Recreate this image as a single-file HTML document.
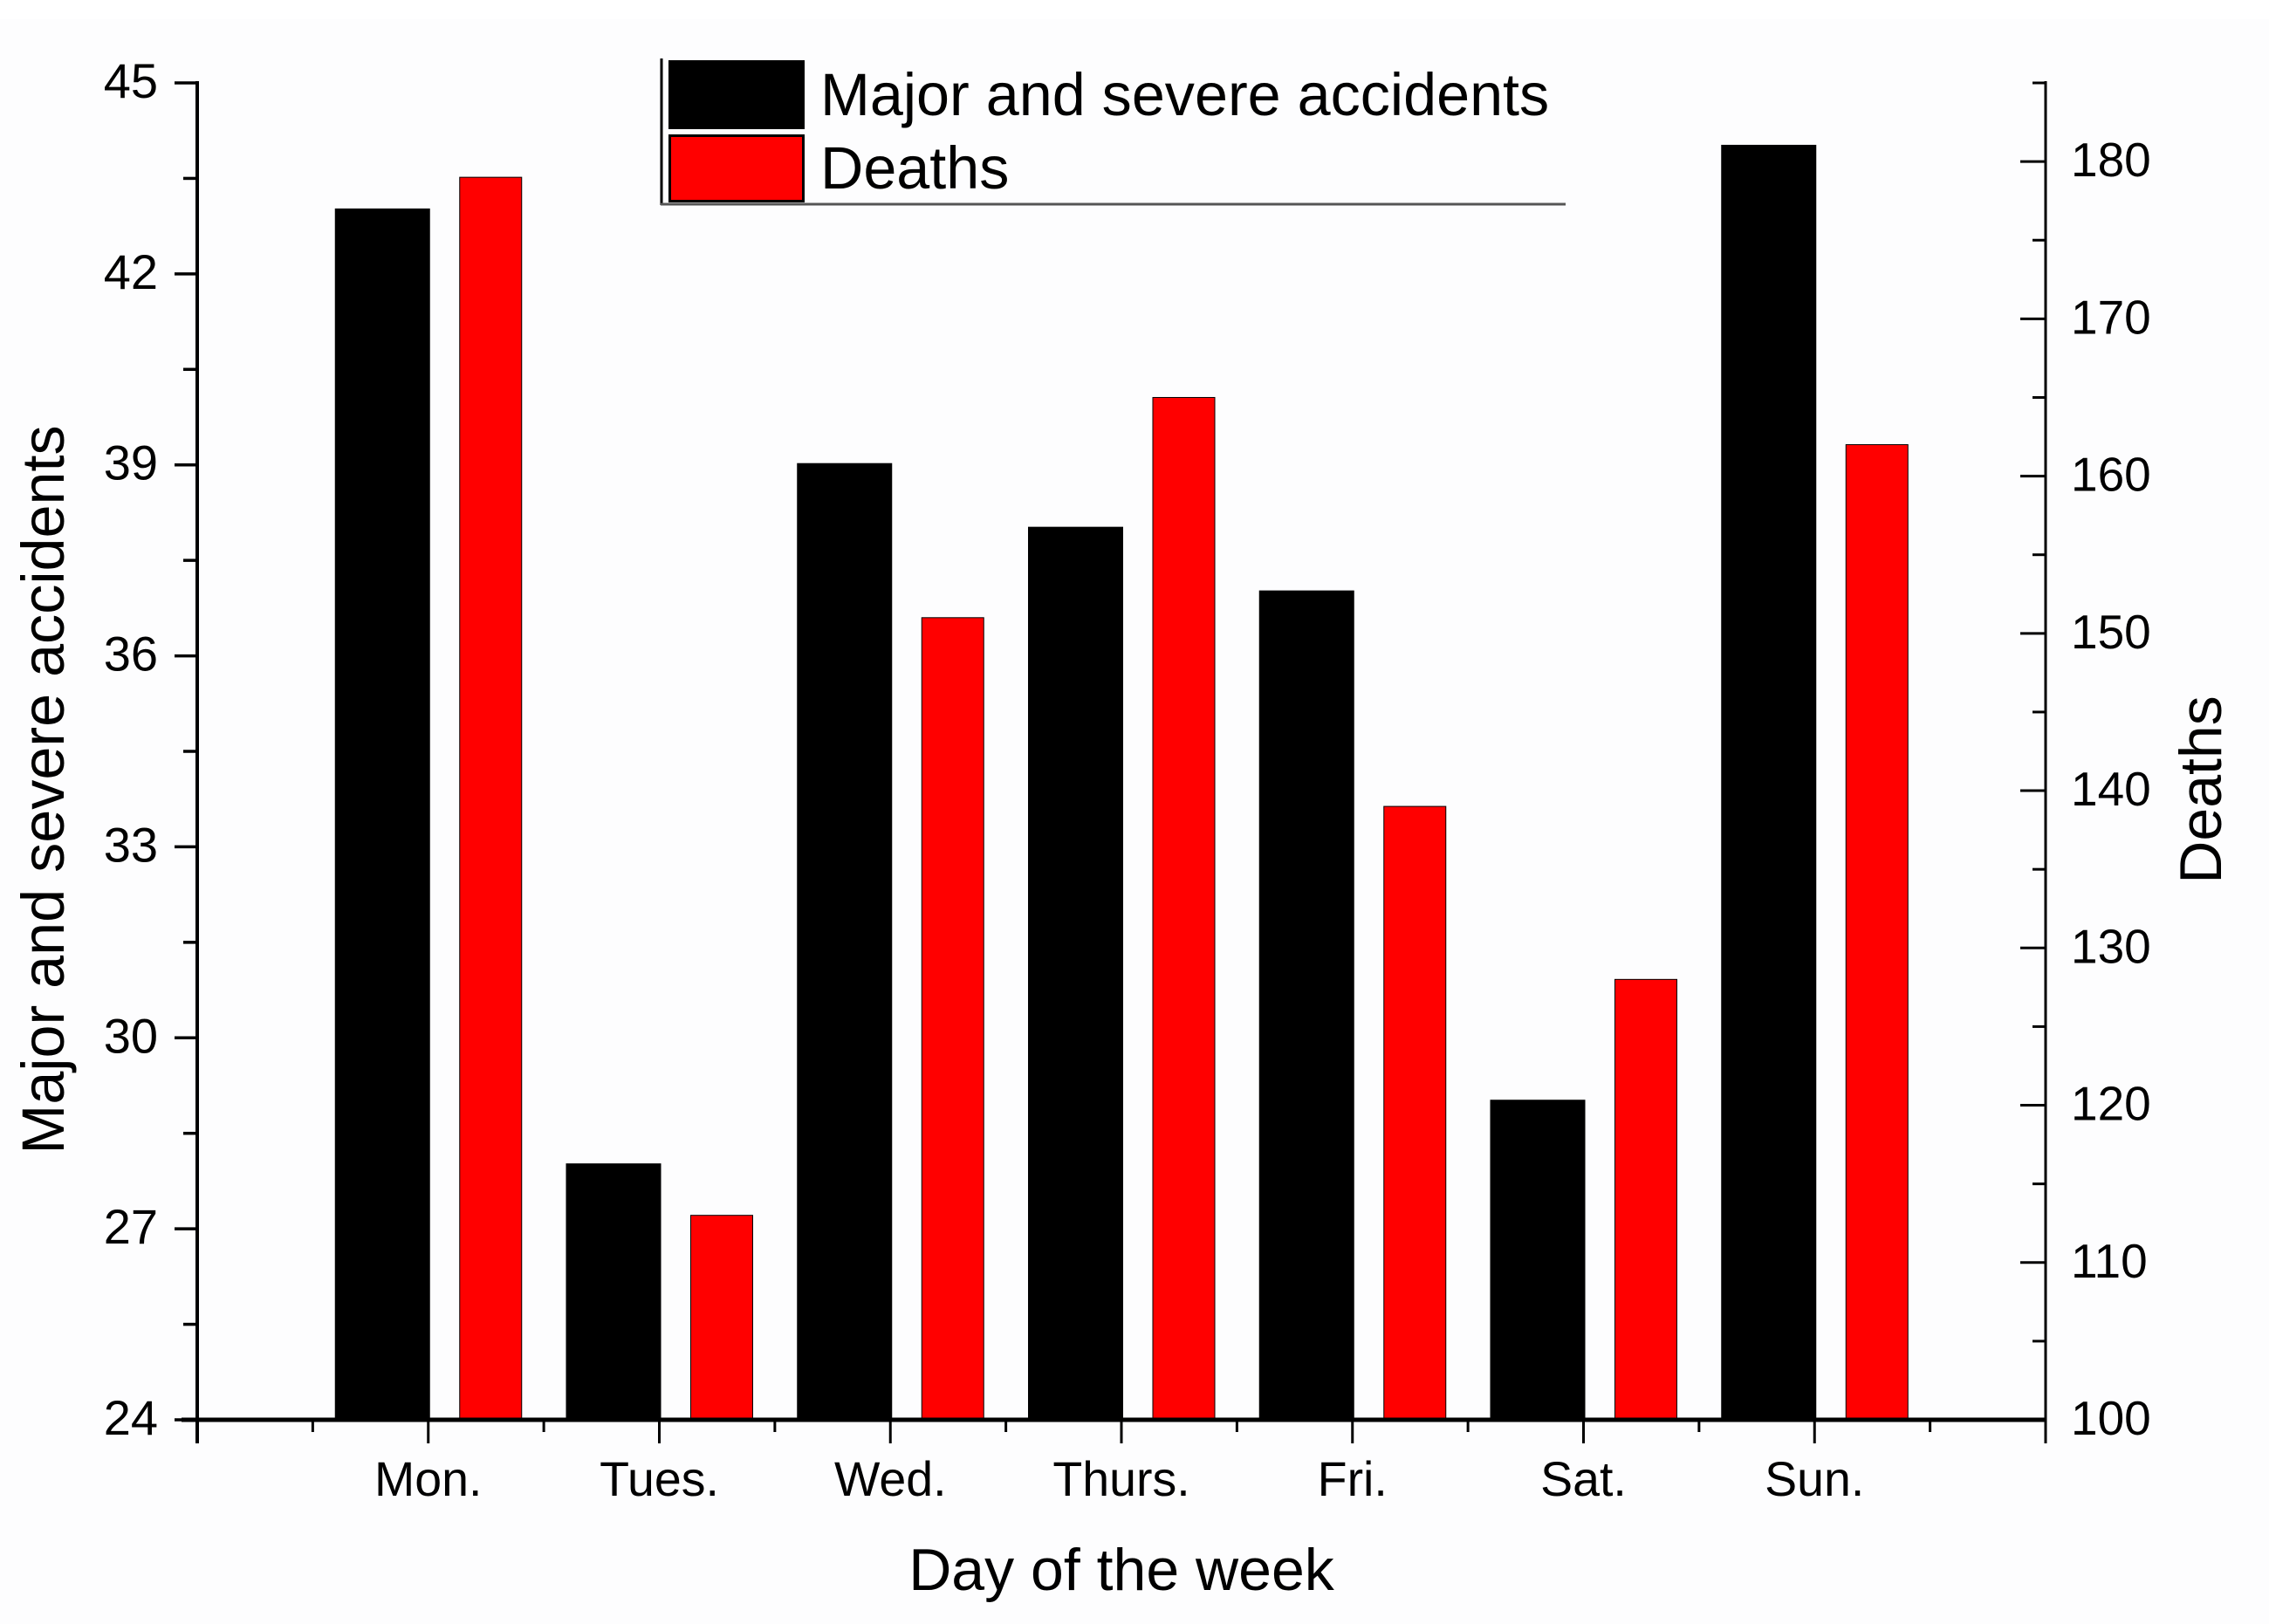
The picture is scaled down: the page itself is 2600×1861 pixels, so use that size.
<!DOCTYPE html>
<html lang="en">
<head>
<meta charset="utf-8">
<title>Major and severe accidents and deaths by day of the week</title>
<style>
html,body{margin:0;padding:0;background:#fff;}
#chart{display:block;width:2600px;height:1861px;font-family:"Liberation Sans",Arial,sans-serif;fill:#000;}
</style>
</head>
<body>
<svg id="chart" xmlns="http://www.w3.org/2000/svg" width="2600" height="1861" viewBox="0 0 2600 1861">
  <rect x="0" y="22" width="2600" height="1839" fill="#fdfdfe"></rect>
  <g id="bars"></g>
  <g id="axes"></g>
  <text x="73" y="905" font-size="68.3" text-anchor="middle" transform="rotate(-90 73 905)">Major and severe accidents</text>
  <text x="2545" y="905" font-size="68" text-anchor="middle" transform="rotate(-90 2545 905)">Deaths</text>
  <text x="1285" y="1822" font-size="68" text-anchor="middle">Day of the week</text>
  <g>
    <line x1="758" y1="67" x2="758" y2="235" stroke="#000" stroke-width="3"></line>
    <line x1="757" y1="234" x2="1794" y2="234" stroke="#555" stroke-width="3"></line>
    <rect x="766" y="69" width="156" height="79" fill="#000"></rect>
    <rect x="767.5" y="155.5" width="153" height="75" fill="#f00" stroke="#000" stroke-width="3"></rect>
    <text x="940" y="132" font-size="68.3">Major and severe accidents</text>
    <text x="940" y="216" font-size="68.3">Deaths</text>
  </g>
</svg>
<script>
const categories = ["Mon.", "Tues.", "Wed.", "Thurs.", "Fri.", "Sat.", "Sun."];
const accidents = [43, 28, 39, 38, 37, 29, 44];
const deaths = [179, 113, 151, 165, 139, 128, 162];
const leftTicks = [24, 27, 30, 33, 36, 39, 42, 45];
const rightTicks = [100, 110, 120, 130, 140, 150, 160, 170, 180];

const NS = 'http://www.w3.org/2000/svg';
const plot = { left: 226, right: 2344, top: 95, bottom: 1627 };
const leftDomain = [24, 45];
const rightDomain = [100, 185];
const step = (plot.right - plot.left) / (categories.length + 1);

function xPos(i) { return plot.left + (i + 1) * step; }
function yLeft(v) {
  return plot.bottom - (v - leftDomain[0]) / (leftDomain[1] - leftDomain[0]) * (plot.bottom - plot.top);
}
function yRight(v) {
  return plot.bottom - (v - rightDomain[0]) / (rightDomain[1] - rightDomain[0]) * (plot.bottom - plot.top);
}
function make(tag, attrs, parent, text) {
  const el = document.createElementNS(NS, tag);
  for (const k in attrs) el.setAttribute(k, attrs[k]);
  if (text !== undefined) el.textContent = text;
  parent.appendChild(el);
  return el;
}

const barsG = document.getElementById('bars');
const axesG = document.getElementById('axes');

categories.forEach(function (c, i) {
  const cx = xPos(i);
  const topA = yLeft(accidents[i]) - 2;
  const b = make('rect', { x: cx - 107, y: topA, width: 109, height: plot.bottom - topA, fill: '#000' }, barsG);
  
  
  const r = make('rect', { x: cx + 36, y: yRight(deaths[i]), width: 71, height: plot.bottom - yRight(deaths[i]), fill: '#f00', stroke: '#000', 'stroke-width': 1 }, barsG);
  
  
});

function line(x1, y1, x2, y2, w, name) {
  const l = make('line', { x1: x1, y1: y1, x2: x2, y2: y2, stroke: '#000', 'stroke-width': w }, axesG);
  
  
  return l;
}

line(plot.left, plot.top - 2, plot.left, plot.bottom + 27, 4, 'left-y-axis');
line(plot.right, plot.top - 2, plot.right, plot.bottom + 27, 3, 'right-y-axis');
line(plot.left - 18, plot.bottom, plot.right + 1, plot.bottom, 5, 'x-axis');

leftTicks.forEach(function (t, i) {
  const y = yLeft(t);
  line(plot.left - 26, y, plot.left, y, 3.5, 'left-major-tick');
  if (i < leftTicks.length - 1) {
    const ym = yLeft((t + leftTicks[i + 1]) / 2);
    line(plot.left - 16, ym, plot.left, ym, 3.5, 'left-minor-tick');
  }
  const label = make('text', { x: 181, y: y + 17, 'font-size': 56, 'text-anchor': 'end' }, axesG, String(t));
  
  
});

rightTicks.forEach(function (t) {
  const y = yRight(t);
  line(plot.right - 29, y, plot.right, y, 3, 'right-major-tick');
  const ym = yRight(t + 5);
  line(plot.right - 15, ym, plot.right, ym, 3, 'right-minor-tick');
  const label = make('text', { x: 2373, y: y + 17, 'font-size': 55 }, axesG, String(t));
  
  
});

for (let i = 0; i <= categories.length + 1; i++) {
  const x = plot.left + i * step;
  line(x, plot.bottom, x, plot.bottom + 27, 3, 'x-major-tick');
  if (i <= categories.length) {
    line(x + step / 2, plot.bottom, x + step / 2, plot.bottom + 14, 3, 'x-minor-tick');
  }
}

categories.forEach(function (c, i) {
  const label = make('text', { x: xPos(i), y: 1714, 'font-size': 55.5, 'text-anchor': 'middle' }, axesG, c);
  
  
});
</script>
</body>
</html>
